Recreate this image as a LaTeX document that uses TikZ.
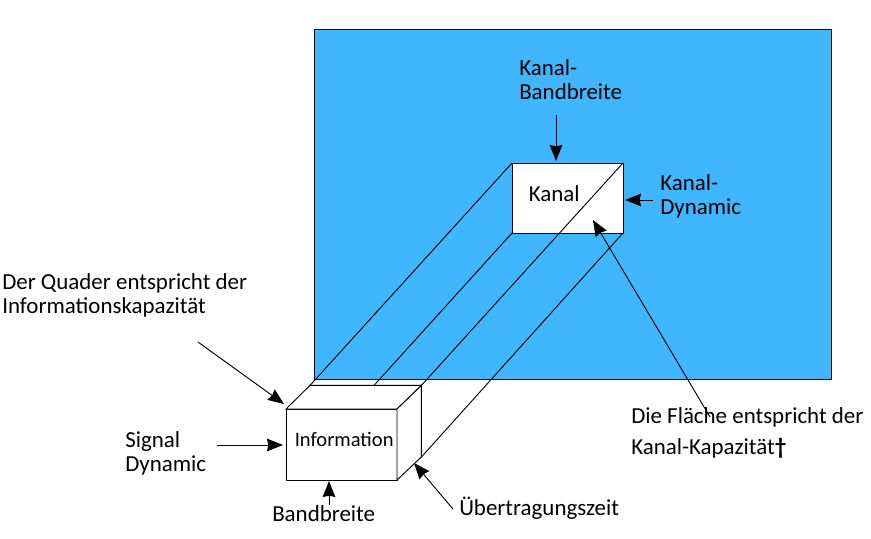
\documentclass[tikz,border=0pt]{standalone}
\usepackage{fontspec}
\setmainfont{Carlito}
\usetikzlibrary{arrows.meta}
\definecolor{flaechenblau}{RGB}{64,182,255}
\tikzstyle{arrow} = [line width=0.7pt, -{Stealth[length=12pt,width=9.5pt,inset=1pt]}]
\tikzstyle{edge} = [line width=0.7pt]
\tikzstyle{txt} = [inner sep=0pt, align=left, anchor=west, font=\fontsize{17.2}{18}\selectfont]
\tikzstyle{wbox} = [draw, rectangle, fill=white, line width=0.7pt, inner sep=0pt, outer sep=0pt]

\begin{document}
\begin{tikzpicture}[x=0.75pt, y=-0.75pt]
    \useasboundingbox (0,0) rectangle (871,539);

    \node[draw, rectangle, fill=flaechenblau, line width=0.6pt, inner sep=0pt, outer sep=0pt, minimum width=387.75pt, minimum height=262.5pt] (flaeche) at (572.5,204) {};

    \node[wbox, minimum width=83.25pt, minimum height=52.5pt, label={[font=\fontsize{17.2}{18}\selectfont, xshift=-10pt, yshift=3pt]center:Kanal}] (kanal) at (567.5,198) {};

    % hintere Kanten des Quaders
    \coordinate (hl) at (310,385.4);
    \coordinate (hm) at (374,385.4);
    \coordinate (hr) at (421.4,385.4);
    \coordinate (hu) at (421.4,457);

    \node[wbox, minimum width=83.25pt, minimum height=53.25pt, label={[font=\fontsize{15.4}{16}\selectfont, xshift=2pt, yshift=3.4pt]center:Information}] (quader) at (341.5,444.5) {};

    \draw[edge] (hl) -- (kanal.north west);
    \draw[edge] (hm) -- (kanal.south west);
    \draw[edge] (hr) -- (kanal.north east);
    \draw[edge] (hu) -- (kanal.south east);

    \draw[edge, fill=white] (quader.north west) -- (hl) -- (hr) -- (quader.north east) -- cycle;
    \draw[edge, fill=white] (quader.north east) -- (hr) -- (hu) -- (quader.south east) -- cycle;

    \node[txt] (kbreite) at (519,80) {Kanal-\\Bandbreite};
    \node[txt] (kdynamic) at (660,196) {Kanal-\\Dynamic};
    \node[txt] (quadertext) at (2,295) {Der Quader entspricht der\\Informationskapazität};
    \node[txt, font=\fontsize{17.2}{23}\selectfont] (flaechetext) at (631,433) {Die Fläche entspricht der\\Kanal-Kapazität\textbf{†}};
    \node[txt] (signal) at (125,453.5) {Signal\\Dynamic};
    \node[txt] (bandbreite) at (272,514) {Bandbreite};
    \node[txt] (zeit) at (459,508) {Übertragungszeit};

    \coordinate (a1) at (556,115);
    \coordinate (a2) at (653,200);
    \coordinate (a3) at (710,417);
    \coordinate (a4) at (198,342);
    \coordinate (a5) at (217,445);
    \coordinate (a6) at (329,505);
    \coordinate (a7) at (453,509);

    \coordinate (e1) at (556,161);
    \coordinate (e2) at (625,200);
    \coordinate (e3) at (593,220);
    \coordinate (e4) at (284,404);
    \coordinate (e5) at (283,445);
    \coordinate (e6) at (329,481);
    \coordinate (e7) at (414,463);

    \draw[arrow] (a1) -- (e1);
    \draw[arrow] (a2) -- (e2);
    \draw[arrow] (a3) -- (e3);
    \draw[arrow] (a4) -- (e4);
    \draw[arrow] (a5) -- (e5);
    \draw[arrow] (a6) -- (e6);
    \draw[arrow] (a7) -- (e7);
\end{tikzpicture}
\end{document}
